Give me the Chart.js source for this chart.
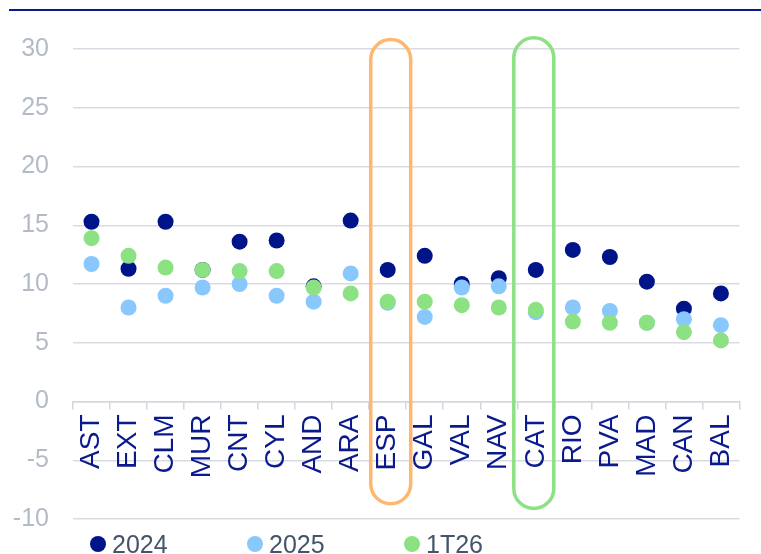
<!DOCTYPE html>
<html>
<head>
<meta charset="utf-8">
<script src="https://cdn.jsdelivr.net/npm/chart.js@4.4.1/dist/chart.umd.min.js"></script>
<style>
  html, body { margin: 0; padding: 0; background: #fff; }
  #wrap { position: relative; width: 761px; height: 554px; font-family: "Liberation Sans", Arial, sans-serif; }
  #topline { position: absolute; left: 9px; top: 9px; width: 752px; height: 2px; background: #0a1a8c; }
  #chart { position: absolute; left: 0; top: 0; }
  #legend { position: absolute; left: 90px; top: 530px; display: flex; }
  .item { width: 157px; display: flex; align-items: center; color: #44546a; font-size: 25px; line-height: 28px; }
  .dot { width: 16px; height: 16px; border-radius: 50%; margin-right: 6px; }
</style>
</head>
<body>
<div id="wrap">
  <div id="topline"></div>
  <canvas id="chart" width="761" height="554"></canvas>
  <div id="legend"></div>
</div>
<script>
const regions = ["AST", "EXT", "CLM", "MUR", "CNT", "CYL", "AND", "ARA", "ESP", "GAL", "VAL", "NAV", "CAT", "RIO", "PVA", "MAD", "CAN", "BAL"];
const values2024 = [15.3, 11.3, 15.3, 11.2, 13.6, 13.7, 9.8, 15.4, 11.2, 12.4, 10.0, 10.5, 11.2, 12.9, 12.3, 10.2, 7.9, 9.2];
const values2025 = [11.7, 8.0, 9.0, 9.7, 10.0, 9.0, 8.5, 10.9, 8.4, 7.2, 9.7, 9.8, 7.6, 8.0, 7.7, 6.7, 7.0, 6.5];
const values1T26 = [13.9, 12.4, 11.4, 11.2, 11.1, 11.1, 9.7, 9.2, 8.5, 8.5, 8.2, 8.0, 7.8, 6.8, 6.7, 6.7, 5.9, 5.2];
const seriesNames = ["2024", "2025", "1T26"];
const seriesColors = ["#001489", "#88c8fd", "#8ce282"];
const yTicks = [-10, -5, 0, 5, 10, 15, 20, 25, 30];
const highlighted = ["ESP", "CAT"];
const highlightColors = ["#ffb66e", "#8ce282"];

const highlightBoxes = {
  id: "highlightBoxes",
  afterDatasetsDraw(chart, args, opts) {
    const { ctx, scales: { x, y } } = chart;
    const catW = (x.right - x.left) / regions.length;
    highlighted.forEach((name, i) => {
      const cx = x.getPixelForValue(regions.indexOf(name)) + opts.shift[i];
      const w = catW * 1.08;
      const top = y.getPixelForValue(opts.top[i]);
      const bottom = y.getPixelForValue(opts.bottom[i]);
      ctx.save();
      ctx.strokeStyle = highlightColors[i];
      ctx.lineWidth = 3.5;
      ctx.beginPath();
      ctx.roundRect(cx - w / 2, top, w, bottom - top, w / 2);
      ctx.stroke();
      ctx.restore();
    });
  }
};

const datasets = [values2024, values2025, values1T26].map((vals, i) => ({
  label: seriesNames[i],
  data: vals,
  showLine: false,
  pointRadius: 8,
  pointHoverRadius: 8,
  pointBorderWidth: 0,
  backgroundColor: seriesColors[i],
  borderColor: seriesColors[i],
  order: 3 - i
}));

const chart = new Chart(document.getElementById("chart"), {
  type: "line",
  data: { labels: regions, datasets: datasets },
  options: {
    responsive: false,
    animation: false,
    layout: { padding: { top: 49, left: 11, right: 17, bottom: 35 } },
    plugins: {
      legend: { display: false },
      tooltip: { enabled: false },
      highlightBoxes: { top: [30.8, 30.95], bottom: [-8.7, -9.1], shift: [3, -2] }
    },
    scales: {
      x: {
        position: { y: 0 },
        offset: true,
        grid: { display: true, drawOnChartArea: false, offset: true, tickLength: 7, color: "#d3d6de", lineWidth: 1.5 },
        border: { display: true, color: "#d3d6de", width: 1.5 },
        ticks: {
          minRotation: 90,
          maxRotation: 90,
          autoSkip: false,
          padding: 6,
          color: "#0a1a8c",
          font: { family: "Liberation Sans", size: 28 }
        }
      },
      y: {
        min: -10,
        max: 30,
        afterBuildTicks(scale) { scale.ticks = yTicks.map(v => ({ value: v })); },
        afterFit(scale) { scale.width = 62; scale.paddingBottom = 0; },
        grid: { color: "#d9dbe2", lineWidth: 1.5, drawTicks: false },
        border: { display: false },
        ticks: {
          padding: 24,
          color: "#b3bbc7",
          font: { family: "Liberation Sans", size: 25 }
        }
      }
    }
  },
  plugins: [highlightBoxes]
});

const legend = document.getElementById("legend");
seriesNames.forEach((name, i) => {
  const item = document.createElement("div");
  item.className = "item";
  item.innerHTML = '<span class="dot" style="background:' + seriesColors[i] + '"></span>' + name;
  legend.appendChild(item);
});
</script>
</body>
</html>
